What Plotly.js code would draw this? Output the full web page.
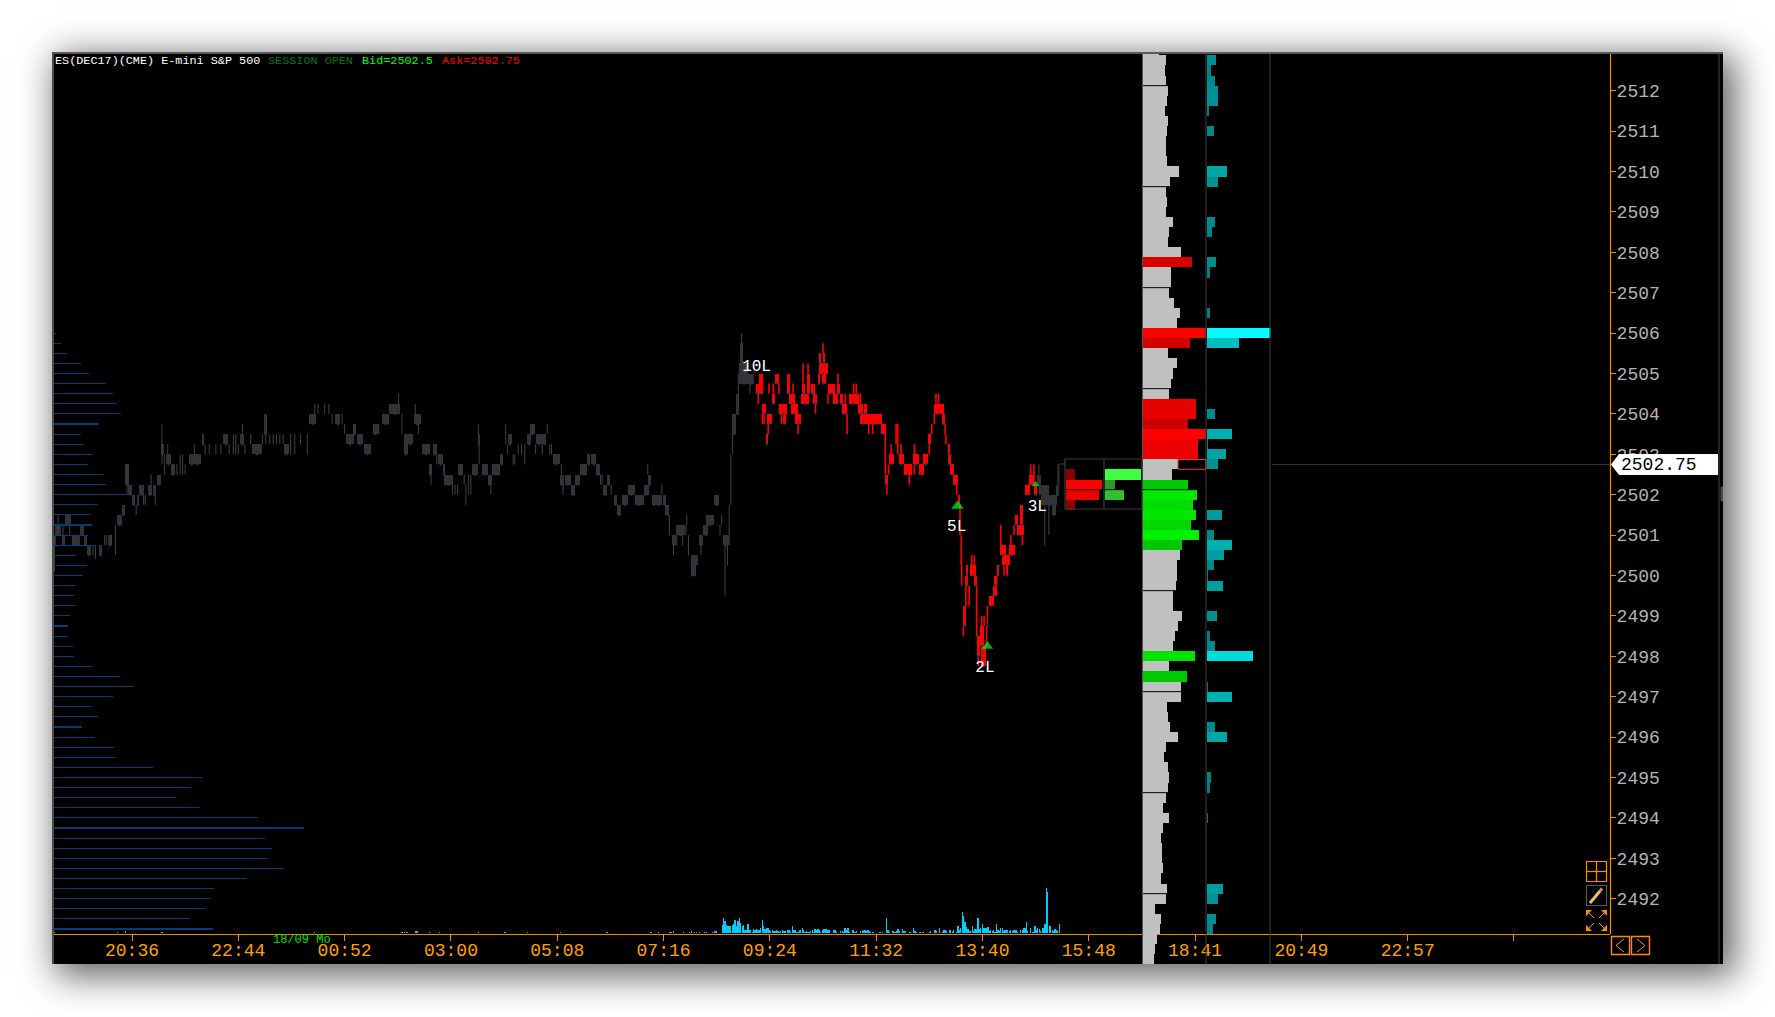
<!DOCTYPE html>
<html><head><meta charset="utf-8">
<script src="https://cdn.plot.ly/plotly-3.0.1.min.js"></script>
<style>
html,body{margin:0;padding:0;background:#fff;width:1775px;height:1017px;overflow:hidden}
#frame{position:absolute;left:52px;top:52px;width:1671px;height:912px;background:#000;box-shadow:8px 8px 34px 4px rgba(0,0,0,.62)}
#chart{position:absolute;left:0;top:0;width:1671px;height:912px}
#edgeT{position:absolute;left:0;top:0;width:1671px;height:2px;background:#5a5a5a;z-index:5}
#edgeL{position:absolute;left:0;top:0;width:2px;height:912px;background:#4a4a4a;z-index:5}
</style></head><body>
<div id="frame"><div id="edgeT"></div><div id="edgeL"></div><div id="chart"></div></div>
<script>
// ---------- time axis (minutes after 18:00 of the session) ----------
const timeTickMinutes=[156,284,412,540,668,796,924,1052,1180,1308,1436,1564,1692,1820];
const timeTickLabels=['20:36','22:44','00:52','03:00','05:08','07:16','09:24','11:32','13:40','15:48','18:41','20:49','22:57',''];
const priceTicks=[2492,2493,2494,2495,2496,2497,2498,2499,2500,2501,2502,2503,2504,2505,2506,2507,2508,2509,2510,2511,2512];
const lastPrice=2502.75;

// ---------- price bars: [start minute, minutes, body low, body high] ----------
const overnightBodies=[
[63,8,2501,2501.25],[62,2.5,2500.75,2501],[71.4,3.6,2500.75,2501],[75,8,2501.25,2501.5],[84,9,2500.75,2501],[93,5,2501,2501.25],[98,4,2500.75,2501],[102,5,2500.5,2500.75],[116,4,2500.5,2500.75],[127,5,2500.75,2501],[138,6.5,2501.25,2501.5],[144,4,2501.5,2501.75],[147,5,2502.25,2502.75],[151,5,2502,2502.25],[156,4,2501.75,2502],[162,3,2501.75,2502],[164,6,2502,2502.25],[175,5,2502,2502.25],[181,4,2502,2502.25],[186,5,2502.25,2502.5],[191,3,2503,2503.25],[197,5.5,2502.75,2503],[203,4,2502.5,2502.75],[225,6,2502.75,2503],[231,8,2502.75,2503],[240,3,2503.25,2503.5],[266,6,2503.25,2503.5],[286,5,2503.25,2503.5],[301,11,2503,2503.25],[315,4,2503.5,2504],[339,6,2503,2503.25],[369,9,2503.75,2504],[401,6,2503.75,2504],[414,9,2503.25,2503.5],[422,4,2503.5,2503.75],[427,7,2503.25,2503.5],[435,9,2503,2503.25],[446,6,2503.5,2503.75],[457,9,2503.75,2504],[466,13,2504,2504.25],[484,4,2503,2503.5],[488,6,2503.25,2503.5],[495,9,2503.75,2504],[505,10,2503,2503.25],[514,3,2502.5,2502.75],[518,5,2503,2503.25],
[525,5,2502.75,2503],[530,3,2502.5,2502.75],[532,10,2502.25,2502.5],[549,5,2502.5,2502.75],[565,8,2502.5,2502.75],[572,3,2503.25,2503.5],[578,7,2502.5,2502.75],[585,4,2502.25,2502.5],[590,9,2502.5,2502.75],[599,4,2502.75,2503],[609,4,2503.25,2503.5],[632,4,2503.25,2503.5],[635,6,2503.5,2503.75],[642,8,2503.25,2503.5],[650,5,2503.25,2503.5],[663,8,2502.75,2503],[671,5,2502.25,2502.5],[677,7,2502.25,2502.5],[685,4,2502,2502.25],[689,6,2502.25,2502.5],[695,9,2502.5,2502.75],[704,4,2502.75,2503],[709,6,2502.75,2503],[715,5,2502.5,2502.75],[723,5,2502,2502.25],[728,4,2502.25,2502.5],[736,4,2501.75,2502],[740,5,2501.5,2501.75],[746,7,2501.75,2502],[753,9,2502,2502.25],[762,10,2501.75,2502],[772,6,2502,2502.25],[777,4,2502.25,2502.5],[782,5,2501.75,2502],[787,7,2501.75,2502],[795,4,2501.75,2502],[798,5,2501.5,2501.75],[806,5,2500.75,2501],[811,11,2501,2501.25],[829,9,2500.25,2500.5],[829,6,2500,2500.25],[839,4,2500.75,2501],[844,6,2501,2501.25],[847,10,2501.25,2501.5],[857,6,2501.75,2502],[867,8,2500.75,2501],
[879,4,2503.5,2504],[883,4,2504,2504.5],[888,4,2505,2505.75],[887,11,2504.75,2505.25],[898,7,2504.75,2505],
[1246,4,2502.25,2502.5],[1248,12,2502,2502.25],[1251,19,2501.75,2502],[1264,4,2501.5,2501.75],[1269,3,2502,2502.25]];
const sessionBodies=[
[911,5,2504.5,2505],[907,4,2504.5,2504.75],[914.5,5,2504,2504.25],[919,2.5,2503.25,2503.5],[920,6.5,2503.75,2504],[926.5,3.5,2504.25,2504.5],[930,5,2504.75,2505],[935,10,2504,2504.25],[940,3,2503.75,2504],[945,3,2504.5,2505],[947,7,2504.25,2504.5],[950,8,2504,2504.25],[954.5,7,2503.75,2504],[961,10,2504.25,2504.5],[962.5,4,2504.5,2504.75],[969,3,2504.5,2505],[973,5,2504.5,2504.75],[976,5,2504.25,2504.5],[983,10.5,2505,2505.25],[983,2,2505.25,2505.5],[988,3,2505.25,2505.5],[982,2,2504.75,2505],[987,3,2504.75,2505],[994,9,2504.5,2504.75],[1000,6,2504.25,2504.5],[1005,4,2504.5,2504.75],[1008,4,2504.25,2504.5],[1011,6,2504,2504.25],[1019,12,2504.25,2504.5],[1030,6,2504,2504.25],[1037,4,2504,2504.25],[1032,10,2503.75,2504],[1042,17,2503.75,2504],[1058,6,2503.5,2503.75],[1063,3,2502.25,2502.5],[1067,7,2502.75,2503],[1079,6,2502.75,2503],[1085,10,2502.5,2502.75],[1096,8,2502.75,2503],[1103,7,2502.5,2502.75],[1109,6,2502.75,2503],[1115,3,2503.25,2503.5],[1122,12,2504,2504.25],[1131,4,2503.75,2504],[1138,3,2503,2503.25],[1138,4,2502.75,2503],[1141,5,2502.5,2502.75],[1144,6,2502.25,2502.5],[1150,3,2501.75,2502],[1156,4,2498.75,2499.25],[1159,4,2499.75,2500],[1160,3,2500,2500.25],[1165,7,2500,2500.25],[1170,3,2499.75,2500],[1173,4,2498,2498.5],[1177,5,2498.25,2498.75],[1178,6,2497.75,2498.25],[1185,2,2498.75,2499],[1188,6,2499.25,2499.5],[1193,4,2499.5,2499.75],[1194,3,2499.75,2500],[1197,2.5,2500,2500.25],[1201,7,2500.5,2500.75],[1203,10,2500.25,2500.5],[1208,3,2500,2500.25],[1212,7,2500.5,2500.75],[1221,9,2501,2501.25],[1219,4,2501.25,2501.5],[1225,4,2501.25,2501.75],[1231,6,2502,2502.25],[1236,6,2502.25,2502.5],[1242,4,2502,2502.25]];

// ---------- wicks: [minute, low, high] ----------
const overnightWicks=[
[62.6,2500.1,2501],[67,2501,2501.5],[73,2501,2501.25],[81,2501,2501.25],[86,2500.75,2501],[109,2500.5,2500.75],[112,2500.4,2500.75],[123,2500.75,2501],[125,2500.75,2501],[131,2500.75,2501],[136,2500.5,2501.25],[150,2502,2502.75],[161,2501.5,2501.75],[170,2501.75,2502],[172,2501.75,2502],[179,2502.25,2502.5],[184,2501.75,2502],[192,2502.75,2503.75],[195,2502.5,2503],[199,2503,2503.25],[207,2502.5,2502.75],[210,2502.5,2502.75],[214,2502.5,2503],[217,2502.5,2503],[220,2502.5,2502.75],[231,2503,2503.25],[244,2503,2503.25],[249,2503,2503.25],[257,2503,2503.25],[263,2503,2503.25],[273,2503,2503.25],[278,2503,2503.5],[281,2503,2503.5],[284,2503,2503.25],[289,2503.5,2503.75],[292,2503,2503.25],[299,2503.25,2503.5],[313,2503.25,2503.5],[317,2503.25,2503.5],[322,2503.25,2503.5],[326,2503.25,2503.5],[330,2503.25,2503.5],[334,2503.25,2503.5],[338,2503.25,2503.5],[347,2503,2503.5],[352,2503,2503.5],[359,2503.25,2503.5],[367,2503,2503.5],[376,2504,2504.25],[380,2504,2504.25],[388,2504,2504.25],[393,2504,2504.25],[397,2503.75,2504],[409,2503.75,2504],[412,2503.5,2503.75],[453,2503.5,2503.75],[477,2504.25,2504.5],[481,2503.5,2504],[497,2504,2504.25],[501,2503.5,2503.75],[516,2502.25,2502.75],[523,2502.75,2503],
[542,2502,2502.25],[545,2502,2502.25],[548,2502,2502.25],[558,2501.75,2502.25],[556,2502.25,2502.5],[561,2502,2502.5],[564,2502,2502.5],[573,2503.5,2503.75],[574,2502.75,2503.25],[588,2502,2502.25],[606,2503.25,2503.75],[608,2503,2503.25],[615,2502.75,2503],[617,2502.75,2503],[621,2503,2503.25],[625,2503,2503.25],[629,2502.75,2503.25],[642,2503,2503.25],[650,2503,2503.25],[656,2503.5,2503.75],[659,2503,2503.25],[661,2503,2503.25],[673,2502.5,2502.75],[675,2502,2502.25],[720,2502.25,2502.5],[722,2502.25,2502.5],[733,2502,2502.25],[777,2502.5,2502.75],[794,2502,2502.25],[803,2501,2501.5],[808,2500.5,2500.75],[812,2500.75,2501],[819,2500.75,2501],[823,2501,2501.25],[824,2501.25,2501.5],[826,2500.5,2501],[841,2500.5,2500.75],[864,2501,2501.25],[866,2501.25,2501.5],[870,2499.5,2500.75],[873,2500.25,2500.75],[875,2500.75,2501.75],[877,2501.75,2503],[879,2503,2503.5],[886,2504.5,2505],[890,2505.75,2506],[894,2505,2505.25],[896,2505,2505.25],[900,2504.5,2504.75],[905,2505,2505.25],
[1248,2502.5,2502.75],[1255,2500.75,2501.75],[1260,2501,2501.75],[1271,2502.25,2502.75]];
const sessionWicks=[
[910,2504.25,2504.5],[915,2503.75,2504],[917,2503.75,2504],[922,2503.5,2503.75],[923,2504.5,2504.75],[928,2504.5,2504.75],[935,2504.5,2504.75],[938,2503.75,2504],[942,2503.75,2504],[952,2504.5,2504.75],[958,2503.5,2503.75],[964,2504.75,2505.25],[970,2505,2505.25],[979,2504,2504.25],[988,2505.5,2505.75],[989,2505.25,2505.5],[991,2504.75,2505],[994,2504.25,2504.5],[1006,2504.75,2505],[1015,2504.25,2504.5],[1017,2503.5,2504],[1025,2504.5,2504.75],[1028,2504.5,2504.75],[1033,2504.25,2504.5],[1043,2503.5,2503.75],[1048,2503.5,2503.75],[1063,2502.5,2503.5],[1065,2502,2502.25],[1070,2503,2503.25],[1067,2502.5,2502.75],[1076,2503.25,2503.75],[1078,2503,2503.75],[1082,2503,2503.25],[1092,2502.25,2502.5],[1098,2503,2503.25],[1098,2502.5,2502.75],[1116,2503,2503.25],[1119,2503.5,2503.75],[1122,2503.75,2504],[1124,2504.25,2504.5],[1127,2504.25,2504.5],[1135,2503.5,2503.75],[1136,2503.25,2503.5],[1149,2502,2502.25],[1153,2501,2501.75],[1154.5,2500.25,2501],[1155,2499.75,2500.25],[1157,2498.5,2498.75],[1160,2499.25,2499.75],[1164,2499.25,2499.75],[1167,2500.25,2500.5],[1170,2500.25,2500.5],[1173,2498.5,2499.75],[1175,2497.75,2498],[1179,2498.75,2499],[1182,2498.75,2499],[1185,2498.25,2498.75],[1186,2499,2499.25],[1197,2499.75,2500],[1202,2500.75,2501.25],[1206,2500,2500.25],[1210,2500,2500.25],[1214,2500.75,2501],[1218,2501,2501.25],[1228,2500.75,2501],[1238,2502.5,2502.75],[1242,2502.25,2502.75]];

// ---------- trade labels ----------
const tradeLabels=['10L','5L','2L','3L'];
const tradeLabelMinutes=[908,1149,1183,1246];
const tradeLabelPrices=[2505.15,2501.2,2497.7,2501.7];
const entryMinutes=[1150,1186,1244];
const entryPrices=[2501.72,2498.25,2502.25];

// ---------- volume at the bottom ----------
const sparseVolumeMinutes=[63,138.5,148,192,376,481,484,487,498,500,514,526,573,605,632,672,728,781,790,803,805,808,820,827,830,833,836,839,845,848,855,858,860];
const sparseVolume=[2,2,6,4,2,2,2,2,6,6,2,2,4,2,2,4,2,2,2,4,4,6,2,2,6,4,4,4,2,2,4,6,6];
const volumeStartMinute=866.6;
const volumeStepMinutes=1.72;
const volume=[25,46,35,25,20,22,20,24,28,40,22,35,44,30,22,25,10,8,28,10,10,4,12,10,12,8,8,14,38,20,12,14,14,10,6,8,6,6,8,6,4,6,8,6,6,0,8,10,4,20,8,8,2,4,8,10,14,8,4,6,4,4,6,8,4,12,10,12,8,2,8,12,12,12,10,8,0,0,10,10,4,0,0,6,6,4,14,10,14,4,0,8,8,2,6,0,0,6,8,6,8,6,10,6,2,2,4,0,0,0,4,4,2,0,0,46,8,4,0,6,6,4,6,12,6,0,12,6,6,0,0,4,2,0,14,6,4,0,4,2,4,4,0,0,0,4,6,0,0,8,6,0,14,0,2,8,8,6,0,10,8,2,8,0,4,20,8,14,62,50,32,18,12,6,6,20,6,12,12,44,12,14,28,14,14,14,18,6,10,6,8,4,26,8,6,14,16,6,8,10,8,6,10,6,8,8,8,2,0,10,8,14,16,32,6,0,16,4,4,20,8,14,12,6,16,14,26,134,122,20,20,8,6,12,10,6,26];

// ---------- left volume-at-price profile ----------
const leftProfilePrices=[2506,2505.75,2505.5,2505.25,2505,2504.75,2504.5,2504.25,2504,2503.75,2503.5,2503.25,2503,2502.75,2502.5,2502.25,2502,2501.75,2501.5,2501.25,2501,2500.75,2500.5,2500.25,2500,2499.75,2499.5,2499.25,2499,2498.75,2498.5,2498.25,2498,2497.75,2497.5,2497.25,2497,2496.75,2496.5,2496.25,2496,2495.75,2495.5,2495.25,2495,2494.75,2494.5,2494.25,2494,2493.75,2493.5,2493.25,2493,2492.75,2492.5,2492.25,2492,2491.75,2491.5,2491.25];
const leftProfile=[2,7,13,27,35,52,59,63,67,45,27,30,39,34,49,52,73,44,37,38,34,41,22,33,29,22,20,22,16,14,14,19,20,39,66,80,59,38,44,28,41,60,62,99,148,137,122,146,204,250,211,218,214,230,193,160,157,152,136,159];

// ---------- right volume profile and delta profile ----------
const profilePrices=[2513,2512.75,2512.5,2512.25,2512,2511.75,2511.5,2511.25,2511,2510.75,2510.5,2510.25,2510,2509.75,2509.5,2509.25,2509,2508.75,2508.5,2508.25,2508,2507.75,2507.5,2507.25,2507,2506.75,2506.5,2506.25,2506,2505.75,2505.5,2505.25,2505,2504.75,2504.5,2504.25,2504,2503.75,2503.5,2503.25,2503,2502.75,2502.5,2502.25,2502,2501.75,2501.5,2501.25,2501,2500.75,2500.5,2500.25,2500,2499.75,2499.5,2499.25,2499,2498.75,2498.5,2498.25,2498,2497.75,2497.5,2497.25,2497,2496.75,2496.5,2496.25,2496,2495.75,2495.5,2495.25,2495,2494.75,2494.5,2494.25,2494,2493.75,2493.5,2493.25,2493,2492.75,2492.5,2492.25,2492,2491.75,2491.5,2491.25,2491,2490.75,2490.5,2490.25];
const profileVolume=[15.9,23,22.1,23,25,24.2,22.1,25,24.2,23,23,24.2,35.9,27.2,23,24.2,23,30,25.9,25,38,48.9,28,28,25.9,30.9,37.2,33.8,63,47.2,25,33.8,30,28,25.9,53,53,45,63,55,55,35,28.8,45,53.9,50,53,48,56,38.8,37.2,33.8,33.8,33,30,30,38.8,35,32.2,30,52.2,25.9,43.9,38,38,24.2,25,27.2,35,23,20.9,25,25.9,25,23,20,25.9,20,18,19.2,19.2,20,18,24.2,23,12.1,18,17.1,14.2,12.1,11.3,15.9];
const deltaVolume=[0,9.6,4.6,8.4,11.7,11.7,2.5,0,7.5,0,0,0,20.5,11.7,0,0,0,8.4,5.4,0,0,9.6,3.3,0,0,0,3.3,0,64,32.6,0,0,0,0,0,0,8.4,0,25.5,1.7,19.6,11.7,0,0,0,0,15.5,0,7.5,25.5,17.5,7.5,1.7,16.7,0,0,10.4,0,3.3,8.4,46.4,0,0,1.7,25.5,0,0,8.4,20.5,0,0,0,4.6,3.3,0,0,1.7,0,0,0,0,0,0,16.7,11.7,0,9.6,6.7,0,0,0,0];
const sellNodes=[2507.75,2506,2505.75,2504.25,2504,2503.75,2503.5,2503.25,2503];
const buyNodes=[2502.25,2502,2501.75,2501.5,2501.25,2501,2500.75,2498,2497.5];
const sectionBreaks=[2512.125,2509.625,2507.125,2504.625,2502.125,2499.625,2497.125,2494.625,2492.125];

// ---------- depth ladder beside the last bar ----------
const askPrices=[2502.5,2502.25,2502,2501.75];
const askSize=[9.3,36,33,9.3];
const bidPrices=[2502.5,2502.25,2502];
const bidSize=[36,10,19];

// ---------- layout helpers ----------
const FW=1671,FH=912,FL=52,FT=52;
const px=x=>(x-FL)/FW, py=y=>1-(y-FT)/FH;
const ORANGE='#ff8c00',ORANGE2='#ffa000',LINE='#3c3c3c',MONO='"Liberation Mono","DejaVu Sans Mono",monospace';
const dom=(a,b)=>[px(a),px(b)];

function bodiesTrace(rows,color){return {type:'bar',x:rows.map(r=>r[0]+r[1]/2),width:rows.map(r=>r[1]),base:rows.map(r=>r[2]),y:rows.map(r=>r[3]-r[2]),marker:{color:color,line:{width:0}},hoverinfo:'skip',xaxis:'x',yaxis:'y'};}
function wicksTrace(rows,color,w){const x=[],y=[];rows.forEach(r=>{x.push(r[0],r[0],null);y.push(r[1],r[2],null);});return {type:'scatter',mode:'lines',x:x,y:y,line:{color:color,width:w},hoverinfo:'skip',xaxis:'x',yaxis:'y'};}
function closeDots(rows){return {type:'scatter',mode:'markers',x:rows.map(r=>r[0]+r[1]/2),y:rows.map(r=>r[2]),marker:{symbol:'square',size:2,color:'#0a3f80',line:{width:0}},hoverinfo:'skip',xaxis:'x',yaxis:'y'};}

function shade(v,isBuy){const i=Math.max(0,Math.min(1,(v-44)/(60-44)));const c=Math.round(200+55*i);return isBuy?`rgb(0,${c},0)`:`rgb(${c},0,0)`;}
const profileColors=profilePrices.map((p,i)=>sellNodes.includes(p)?shade(profileVolume[i],false):buyNodes.includes(p)?shade(profileVolume[i],true):'#c0c0c0');

const volumeMinutes=volume.map((_,i)=>volumeStartMinute+i*volumeStepMinutes);

const traces=[
 {type:'bar',orientation:'h',x:leftProfile,y:leftProfilePrices,width:0.028,marker:{color:'#063a78',line:{width:0}},hoverinfo:'skip',xaxis:'x4',yaxis:'y'},
 bodiesTrace(overnightBodies,'#333333'),
 wicksTrace(overnightWicks,'#424242',1),
 closeDots(overnightBodies),
 bodiesTrace(sessionBodies,'#ff0000'),
 wicksTrace(sessionWicks,'#ff0000',1.6),
 closeDots(sessionBodies),
 {type:'bar',x:sparseVolumeMinutes,y:sparseVolume,width:1.6,marker:{color:'#00ccff',line:{width:0}},hoverinfo:'skip',xaxis:'x',yaxis:'y2'},
 {type:'bar',x:volumeMinutes,y:volume,width:1.5,marker:{color:'#00ccff',line:{width:0}},hoverinfo:'skip',xaxis:'x',yaxis:'y2'},
 {type:'scatter',mode:'markers',x:entryMinutes,y:entryPrices,marker:{symbol:'triangle-up',size:[11,10,7],color:'#00ff00',line:{width:0}},hoverinfo:'skip',xaxis:'x',yaxis:'y'},
 {type:'scatter',mode:'text',x:tradeLabelMinutes,y:tradeLabelPrices,text:tradeLabels,textposition:'middle center',textfont:{family:MONO,size:16,color:'#ffffff'},hoverinfo:'skip',xaxis:'x',yaxis:'y'},
 {type:'bar',orientation:'h',x:profileVolume,y:profilePrices,width:0.25,marker:{color:profileColors,line:{width:0}},hoverinfo:'skip',xaxis:'x2',yaxis:'y'},
 {type:'bar',orientation:'h',x:deltaVolume,y:profilePrices,width:0.25,marker:{color:deltaVolume,cmin:0,cmax:64,colorscale:[[0,'#007878'],[0.4,'#00b0b0'],[1,'#00ffff']],line:{width:0}},hoverinfo:'skip',xaxis:'x3',yaxis:'y'},
 {type:'bar',orientation:'h',x:askSize,y:askPrices,width:0.25,marker:{color:['#8c0000','#ff0000','#ee0000','#8c0000'],line:{width:0}},hoverinfo:'skip',xaxis:'x5',yaxis:'y'},
 {type:'bar',orientation:'h',x:bidSize,y:bidPrices,width:0.25,marker:{color:['#40ff40','#2a9a2a','#30c030'],line:{width:0}},hoverinfo:'skip',xaxis:'x6',yaxis:'y'}
];

// ---------- decorations ----------
const shapes=[];
const vline=(x,y0,y1,c,w)=>shapes.push({type:'line',xref:'paper',yref:'paper',x0:px(x),x1:px(x),y0:py(y0),y1:py(y1),line:{color:c,width:w||1},layer:'above'});
const hline=(x0,x1,y,c,w)=>shapes.push({type:'line',xref:'paper',yref:'paper',x0:px(x0),x1:px(x1),y0:py(y),y1:py(y),line:{color:c,width:w||1},layer:'above'});
const rect=(x0,y0,x1,y1,c,w,f)=>shapes.push({type:'rect',xref:'paper',yref:'paper',x0:px(x0),x1:px(x1),y0:py(y0),y1:py(y1),line:{color:c,width:w||1},fillcolor:f||'rgba(0,0,0,0)',layer:'above'});
const seg=(x0,y0,x1,y1,c,w)=>shapes.push({type:'line',xref:'paper',yref:'paper',x0:px(x0),x1:px(x1),y0:py(y0),y1:py(y1),line:{color:c,width:w||1},layer:'above'});
const tri=(a,b,c,d,e,f,col)=>shapes.push({type:'path',xref:'paper',yref:'paper',path:`M${px(a)},${py(b)} L${px(c)},${py(d)} L${px(e)},${py(f)} Z`,fillcolor:col,line:{width:0},layer:'above'});

vline(1142.5,52,964,'#555555');vline(1206,52,964,LINE);vline(1270,52,964,LINE);
vline(1719,52,964,'#444444');
rect(1721,487,1723,501,'#444444',1,'#555555');
vline(1610.5,52,934,ORANGE,1.2);
sectionBreaks.forEach(p=>shapes.push({type:'line',xref:'paper',yref:'y',x0:px(1143),x1:px(1206),y0:p,y1:p,line:{color:'#000',width:1},layer:'above'}));
shapes.push({type:'line',xref:'paper',yref:'y',x0:px(1066),x1:px(1141),y0:2502.125,y1:2502.125,line:{color:'#000',width:1},layer:'above'});
shapes.push({type:'line',xref:'paper',yref:'y',x0:px(1272),x1:px(1610),y0:lastPrice,y1:lastPrice,line:{color:'#3c3c3c',width:1},layer:'above'});
shapes.push({type:'rect',xref:'paper',yref:'y',x0:px(1178),x1:px(1206),y0:lastPrice-0.12,y1:lastPrice+0.12,line:{color:'#e04040',width:1},layer:'above'});
rect(1065,459,1142,509,'#3a3a3a',1.2);vline(1104,459,509,'#3a3a3a',1.2);
seg(1059,464,1065,464,'#3a3a3a');seg(1059,464,1059,485,'#3a3a3a');
shapes.push({type:'path',xref:'paper',yref:'paper',path:`M${px(1611)},${py(464.5)} L${px(1619)},${py(454)} L${px(1718)},${py(454)} L${px(1718)},${py(475)} L${px(1619)},${py(475)} Z`,fillcolor:'#ffffff',line:{width:0},layer:'above'});
rect(1586.5,861.5,1606.5,881.5,ORANGE,1.2);vline(1596.5,861.5,881.5,ORANGE,1.2);hline(1586.5,1606.5,871.5,ORANGE,1.2);
rect(1586.5,885.5,1606.5,905.5,'#555555',1.2);
seg(1590,903,1600,891,'#e8c070',3);seg(1600,891,1602,888.5,'#e08090',3);
// expand icon
[[1586,910,1,1],[1607,910,-1,1],[1586,931,1,-1],[1607,931,-1,-1]].forEach(c=>{
  tri(c[0],c[1],c[0]+6*c[2],c[1],c[0],c[1]+6*c[3],ORANGE);
  seg(c[0]+3*c[2],c[1]+3*c[3],c[0]+8*c[2],c[1]+8*c[3],ORANGE,1);
});
rect(1611.5,936.5,1629.5,954.5,ORANGE,1.4);rect(1631.5,936.5,1649.5,954.5,ORANGE,1.4);
seg(1624,939,1616,945.5,ORANGE);seg(1616,945.5,1624,952,ORANGE);
seg(1637,939,1645,945.5,ORANGE);seg(1645,945.5,1637,952,ORANGE);

const note=(x,y,t,c,s,anchor)=>({xref:'paper',yref:'paper',x:px(x),y:py(y),text:t,showarrow:false,xanchor:anchor||'left',yanchor:'middle',font:{family:MONO,size:s,color:c}});
const annotations=[
 note(53,61,'ES(DEC17)(CME) E-mini S&amp;P 500','#ffffff',11.8),
 note(266,61,'SESSION OPEN','#007a00',11.8),
 note(360,61,'Bid=2502.5','#00ff00',11.8),
 note(440,61,'Ask=2502.75','#ff0000',11.8),
 note(271,940,'18/09 Mo','#00e000',12),
 note(1619,464.5,'2502.75','#000000',18)
];

const hidden=(d,r)=>({domain:d,range:r,anchor:'y',visible:false,fixedrange:true});
const layout={
 width:FW,height:FH,margin:{l:0,r:0,t:0,b:0,pad:0},paper_bgcolor:'#000',plot_bgcolor:'rgba(0,0,0,0)',
 showlegend:false,barmode:'overlay',bargap:0,hovermode:false,
 xaxis:{domain:[0,px(1610)],range:[59.67,1935.6],anchor:'free',position:30/FH,side:'bottom',tickmode:'array',tickvals:timeTickMinutes,ticktext:timeTickLabels,ticks:'outside',ticklen:6,tickcolor:ORANGE,tickwidth:1,ticklabelstandoff:-7,showgrid:false,zeroline:false,showline:true,linecolor:'#ff7f00',linewidth:1.2,tickfont:{family:MONO,size:18,color:ORANGE2},fixedrange:true},
 yaxis:{domain:[0,1],range:[2490.384,2512.958],anchor:'x',side:'right',tickmode:'array',tickvals:priceTicks,ticktext:priceTicks.map(String),ticks:'outside',ticklen:5,tickcolor:ORANGE,tickwidth:1,ticklabelstandoff:-3,showgrid:false,zeroline:false,showline:false,tickfont:{family:MONO,size:18,color:'#b4b4b4'},fixedrange:true},
 yaxis2:{domain:[31/FH,(31+50)/FH],range:[0,150],anchor:'x',visible:false,fixedrange:true},
 xaxis2:hidden(dom(1143,1206),[0,63]),
 xaxis3:hidden(dom(1206.5,1270.5),[0,64]),
 xaxis4:hidden(dom(54,314),[0,260]),
 xaxis5:hidden(dom(1066,1104),[0,38]),
 xaxis6:hidden(dom(1105,1142),[0,37]),
 shapes:shapes,annotations:annotations
};
Plotly.newPlot('chart',traces,layout,{displayModeBar:false,staticPlot:true});
</script>
</body></html>
